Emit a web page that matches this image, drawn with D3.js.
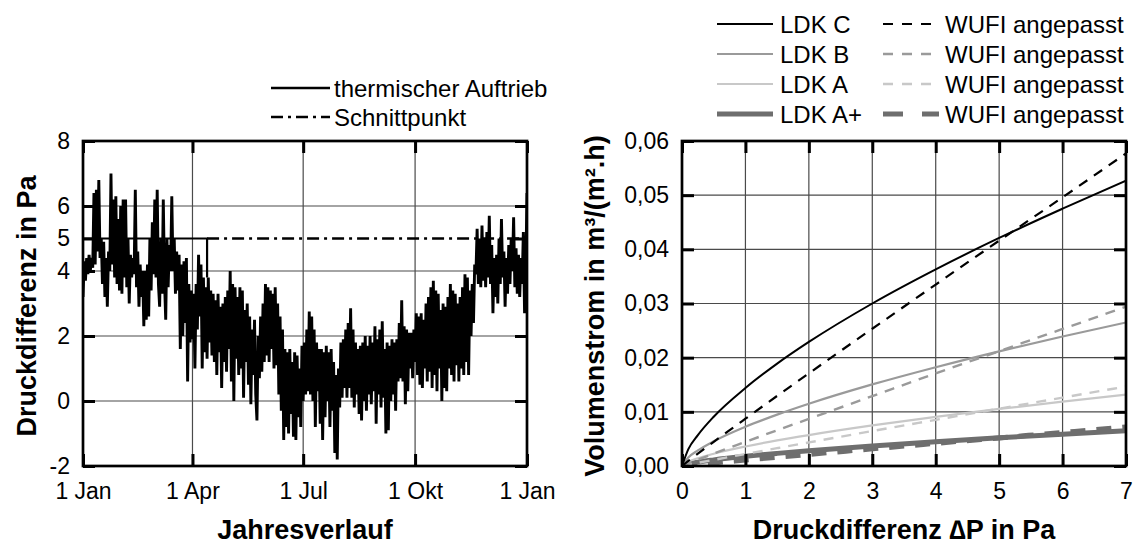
<!DOCTYPE html>
<html><head><meta charset="utf-8">
<script src="https://cdn.jsdelivr.net/npm/d3@7/dist/d3.min.js"></script>
<style>
body{margin:0;background:#fff}
svg text{font-family:"Liberation Sans",Arial,Helvetica,sans-serif;fill:#000}
</style>
</head><body>
<svg id="c" width="1136" height="545"></svg>
<script>
// ---------- LEFT CHART DATA ----------
const dayTicks = [0, 90, 181, 273, 365];
const dayTickLabels = ["1 Jan", "1 Apr", "1 Jul", "1 Okt", "1 Jan"];
const leftYTicks = [-2, 0, 2, 4, 5, 6, 8];
const leftGridY = [0, 2, 4, 6];
const schnittpunktValue = 5;
const schnittpunktSolidEnd = 102;   // day
const schnittpunktDrop = 3.8;
// thermischer Auftrieb, one value per day (day 0 .. 365)
const thermischerAuftrieb = [
 3.2,4.3,3.7,4.4,3.9,4.5,4.0,4.4,4.1,6.4,
 4.2,6.5,4.6,6.8,4.4,5.0,3.6,4.9,3.2,4.4,
 2.9,4.6,4.0,7.0,4.2,6.2,3.8,6.3,3.6,5.6,
 3.4,6.0,3.3,6.2,3.8,6.2,3.5,5.0,3.0,4.5,
 3.8,4.4,3.9,6.5,3.5,4.6,2.9,4.2,3.2,4.0,
 2.3,4.0,2.5,4.2,2.6,5.0,3.4,5.5,3.9,6.2,
 3.8,6.5,3.6,2.9,5.0,3.3,6.2,3.7,2.5,5.0,
 3.5,4.8,4.0,6.3,4.0,5.0,3.3,4.6,3.4,4.5,
 1.6,4.2,2.0,4.3,2.4,4.4,0.6,3.6,1.8,3.4,
 1.9,3.3,1.0,3.6,2.2,4.5,2.6,4.2,1.0,3.8,
 1.5,3.5,1.3,3.8,1.8,3.4,1.4,3.3,1.2,3.1,
 0.8,3.3,1.5,2.9,0.4,3.0,1.2,3.2,0.9,3.4,
 1.6,4.0,0.6,3.6,0.0,3.5,1.3,3.2,0.8,3.5,
 1.0,3.4,0.1,2.8,1.2,3.0,0.5,2.6,-0.1,2.2,
 0.8,2.5,0.2,-0.6,2.0,0.7,2.6,0.9,3.0,1.2,
 3.6,1.4,3.5,1.2,3.4,1.6,3.3,1.0,3.5,1.1,
 3.0,0.2,2.6,-0.3,2.2,-1.2,1.6,-0.8,1.5,-1.0,
 1.6,-0.4,1.2,-1.1,1.5,-1.2,1.4,-0.5,1.0,-0.8,
 1.7,0.0,1.8,0.2,2.2,0.3,2.75,0.2,2.6,0.0,
 2.2,-0.8,1.8,0.3,1.6,-0.7,1.6,-1.2,1.5,-0.5,
 1.7,0.0,1.5,-0.8,1.6,-0.3,1.2,-1.6,0.8,-1.8,
 1.0,-0.2,1.8,0.1,1.9,0.4,2.2,0.1,2.4,0.4,
 2.85,0.1,2.2,-0.2,1.8,0.2,1.6,-0.4,1.7,-0.6,
 1.8,0.0,2.0,-0.3,1.7,0.2,2.0,-0.1,1.8,0.3,
 2.3,-0.7,1.9,0.2,2.2,-0.2,2.45,0.1,1.6,-1.0,
 1.8,-0.9,1.7,0.0,1.9,0.2,1.8,-0.3,1.9,0.6,
 2.4,0.7,3.1,0.6,2.3,-0.1,2.2,0.3,2.1,1.0,
 2.1,0.7,2.2,1.2,2.7,0.8,2.6,0.5,2.7,0.4,
 2.5,1.0,3.0,0.6,3.2,0.9,3.5,0.4,3.7,0.8,
 3.4,0.3,3.3,1.0,2.8,0.0,3.0,0.4,2.9,0.3,
 3.2,1.0,3.6,0.8,3.4,0.6,3.3,1.1,3.0,0.6,
 3.2,1.0,3.5,0.8,3.9,1.2,3.8,0.8,3.4,2.0,
 3.6,2.4,4.2,3.9,5.3,3.6,5.0,3.5,5.4,3.7,
 5.0,3.5,5.2,3.8,5.7,3.6,4.8,2.7,4.4,3.2,
 4.5,3.0,5.0,3.6,5.6,3.8,4.6,2.9,4.4,3.3,
 4.8,3.6,5.0,4.0,5.65,3.5,4.7,3.3,4.5,3.2,
 4.4,3.6,5.2,2.7,4.0,6.4
];

// ---------- RIGHT CHART DATA ----------
const pressureDiff = [0, 0.1, 0.25, 0.5, 1, 1.5, 2, 3, 4, 5, 6, 7];
const rightXTicks = [0, 1, 2, 3, 4, 5, 6, 7];
const rightYTicks = [0, 0.01, 0.02, 0.03, 0.04, 0.05, 0.06];
const ldkC     = [0, 0.0031, 0.0057, 0.0091, 0.0144, 0.0189, 0.0229, 0.0300, 0.0363, 0.0421, 0.0475, 0.0527];
const wufiC    = [0, 0.00094, 0.00227, 0.00446, 0.00873, 0.01294, 0.0171, 0.02534, 0.0335, 0.0416, 0.0496, 0.0577];
const ldkB     = [0, 0.00156, 0.00287, 0.00456, 0.00724, 0.00948, 0.01149, 0.01506, 0.01824, 0.02117, 0.0239, 0.0265];
const wufiB    = [0, 0.00048, 0.00116, 0.00228, 0.00445, 0.0066, 0.0087, 0.0129, 0.0171, 0.0212, 0.0253, 0.0294];
const ldkA     = [0, 0.00078, 0.00143, 0.00227, 0.0036, 0.00472, 0.00571, 0.00749, 0.00907, 0.01053, 0.01188, 0.01318];
const wufiA    = [0, 0.00024, 0.00058, 0.00113, 0.00222, 0.00329, 0.00435, 0.00645, 0.00852, 0.01059, 0.01262, 0.01468];
const ldkAplus = [0, 0.00038, 0.00071, 0.00112, 0.00178, 0.00233, 0.00282, 0.0037, 0.00449, 0.0052, 0.00587, 0.00651];
const wufiAplus= [0, 0.00012, 0.00028, 0.00056, 0.00109, 0.00162, 0.00214, 0.00316, 0.00418, 0.00519, 0.0062, 0.0072];
const seriesNames = ["LDK C", "LDK B", "LDK A", "LDK A+"];
const wufiName = "WUFI angepasst";

// ---------- DRAWING ----------
const svg = d3.select("#c");
const FONT = '"Liberation Sans",Arial,Helvetica,sans-serif';
const plotTop = 141, plotBottom = 466;

const xL = d3.scaleLinear([0, 365], [83, 527]);
const yL = d3.scaleLinear([-2, 8], [plotBottom, plotTop]);
const xR = d3.scaleLinear([0, 7], [682, 1126]);
const yR = d3.scaleLinear([0, 0.06], [plotBottom, plotTop]);

function clip(id, x, y) {
  svg.append("clipPath").attr("id", id).append("rect")
    .attr("x", x.range()[0]).attr("y", y.range()[1])
    .attr("width", x.range()[1] - x.range()[0]).attr("height", y.range()[0] - y.range()[1]);
}
clip("clL", xL, yL); clip("clR", xR, yR);

function grid(x, y, gx, gy) {
  const g = svg.append("g").attr("stroke", "#4a4a4a").attr("stroke-width", 1.2);
  g.selectAll(".gx").data(gx).join("line")
    .attr("x1", d => x(d)).attr("x2", d => x(d)).attr("y1", y.range()[1]).attr("y2", y.range()[0]);
  g.selectAll(".gy").data(gy).join("line")
    .attr("y1", d => y(d)).attr("y2", d => y(d)).attr("x1", x.range()[0]).attr("x2", x.range()[1]);
}

function frame(x, y, xt, yt, xfmt, yfmt) {
  const y0 = y.range()[0], y1 = y.range()[1], x0 = x.range()[0], x1 = x.range()[1];
  const axes = [
    svg.append("g").attr("transform", `translate(0,${y0})`)
      .call(d3.axisBottom(x).tickValues(xt).tickFormat(xfmt).tickSizeInner(-12).tickSizeOuter(0).tickPadding(17)),
    svg.append("g").attr("transform", `translate(0,${y1})`)
      .call(d3.axisTop(x).tickValues(xt).tickFormat("").tickSizeInner(-12).tickSizeOuter(0)),
    svg.append("g").attr("transform", `translate(${x0},0)`)
      .call(d3.axisLeft(y).tickValues(yt).tickFormat(yfmt).tickSizeInner(-12).tickSizeOuter(0).tickPadding(13)),
    svg.append("g").attr("transform", `translate(${x1},0)`)
      .call(d3.axisRight(y).tickValues(yt).tickFormat("").tickSizeInner(-12).tickSizeOuter(0))
  ];
  axes.forEach(a => {
    a.select(".domain").remove();
    a.selectAll(".tick line").attr("stroke", "#000").attr("stroke-width", 3);
    a.selectAll("text").attr("font-family", FONT).attr("font-size", 23).attr("fill", "#000");
  });
  svg.append("rect").attr("x", x0).attr("y", y1).attr("width", x1 - x0).attr("height", y0 - y1)
    .attr("fill", "none").attr("stroke", "#000").attr("stroke-width", 2.7);
}

// ----- left chart -----
grid(xL, yL, dayTicks.slice(1, -1), leftGridY);
const gL = svg.append("g").attr("clip-path", "url(#clL)");
gL.append("line").attr("x1", xL(schnittpunktSolidEnd)).attr("x2", xL(365))
  .attr("y1", yL(schnittpunktValue)).attr("y2", yL(schnittpunktValue))
  .attr("stroke", "#000").attr("stroke-width", 2.6).attr("stroke-dasharray", "12,5,3,5");
gL.append("path")
  .attr("d", d3.line()([[xL(0), yL(schnittpunktValue)], [xL(schnittpunktSolidEnd), yL(schnittpunktValue)], [xL(schnittpunktSolidEnd), yL(schnittpunktDrop)]]))
  .attr("fill", "none").attr("stroke", "#000").attr("stroke-width", 2.2);
gL.append("path").datum(thermischerAuftrieb)
  .attr("d", d3.line().x((d, i) => xL(i)).y(d => yL(d)))
  .attr("fill", "none").attr("stroke", "#000").attr("stroke-width", 2.9).attr("stroke-linejoin", "miter");
frame(xL, yL, dayTicks, leftYTicks, (d, i) => dayTickLabels[i], d => String(d));

// left legend
const legL = svg.append("g");
legL.append("line").attr("x1", 271).attr("x2", 330).attr("y1", 88).attr("y2", 88).attr("stroke", "#000").attr("stroke-width", 2.4);
legL.append("text").attr("x", 334).attr("y", 88 + 8.5).attr("font-size", 24).text("thermischer Auftrieb");
legL.append("line").attr("x1", 271).attr("x2", 330).attr("y1", 117).attr("y2", 117).attr("stroke", "#000").attr("stroke-width", 2.4).attr("stroke-dasharray", "12,5,3,5");
legL.append("text").attr("x", 334).attr("y", 117 + 8.5).attr("font-size", 24).text("Schnittpunkt");

// ----- right chart -----
grid(xR, yR, rightXTicks.slice(1, -1), rightYTicks.slice(1, -1));
const gR = svg.append("g").attr("clip-path", "url(#clR)");
const styles = [
  {solid: ldkC,     dash: wufiC,     color: "#000000", w: 2.0, dw: 2.2, da: "10,8",  lda: "10,9"},
  {solid: ldkB,     dash: wufiB,     color: "#9a9a9a", w: 2.2, dw: 2.4, da: "10,8",  lda: "10,9"},
  {solid: ldkA,     dash: wufiA,     color: "#c8c8c8", w: 2.2, dw: 2.4, da: "10,8",  lda: "10,9"},
  {solid: ldkAplus, dash: wufiAplus, color: "#6e6e6e", w: 5.0, dw: 5.0, da: "15,11", lda: "20,19"}
];
const lineR = d3.line().x((d, i) => xR(pressureDiff[i])).y(d => yR(d)).curve(d3.curveMonotoneX);
[3, 2, 1, 0].forEach(k => {
  const s = styles[k];
  gR.append("path").datum(s.dash).attr("d", lineR).attr("fill", "none")
    .attr("stroke", s.color).attr("stroke-width", s.dw).attr("stroke-dasharray", s.da);
  gR.append("path").datum(s.solid).attr("d", lineR).attr("fill", "none")
    .attr("stroke", s.color).attr("stroke-width", s.w);
});
frame(xR, yR, rightXTicks, rightYTicks, d => String(d), d => d3.format(".2f")(d).replace(".", ","));

// right legend
const legR = svg.append("g");
styles.forEach((s, k) => {
  const yy = 24 + k * 30;
  legR.append("line").attr("x1", 717).attr("x2", 773).attr("y1", yy).attr("y2", yy)
    .attr("stroke", s.color).attr("stroke-width", s.w);
  legR.append("text").attr("x", 780).attr("y", yy + 8.5).attr("font-size", 24).text(seriesNames[k]);
  legR.append("line").attr("x1", 883).attr("x2", 939).attr("y1", yy).attr("y2", yy)
    .attr("stroke", s.color).attr("stroke-width", s.dw).attr("stroke-dasharray", s.lda);
  legR.append("text").attr("x", 945).attr("y", yy + 8.5).attr("font-size", 24).text(wufiName);
});

// ----- axis titles -----
function title(txt, x, y, rot) {
  svg.append("text").attr("transform", `translate(${x},${y})` + (rot ? " rotate(-90)" : ""))
    .attr("text-anchor", "middle").attr("font-size", 27).attr("font-weight", "bold").text(txt);
}
title("Druckdifferenz in Pa", 36, 306, true);
title("Jahresverlauf", 305, 539, false);
title("Volumenstrom in m³/(m².h)", 604, 306, true);
title("Druckdifferenz \u2206P in Pa", 904, 539, false);
</script>
</body></html>
